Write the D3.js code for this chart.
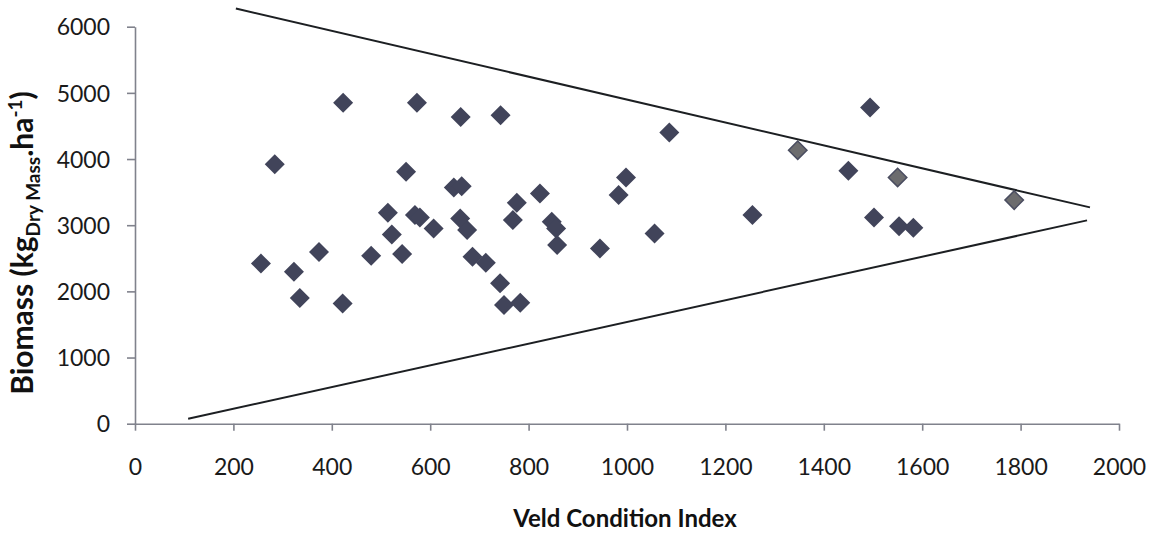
<!DOCTYPE html>
<html>
<head>
<meta charset="utf-8">
<script src="https://cdn.jsdelivr.net/npm/d3@7"></script>
<style>
  body { margin: 0; background: #fff; }
  svg text { font-family: Lato, "Open Sans", sans-serif; }
</style>
</head>
<body>
<div id="viz-body"></div>
<script>
// Veld Condition Index vs biomass (dark markers)
var vci = [256, 284, 323, 335, 374, 422, 423, 480, 514, 522, 543, 551, 569, 573, 579,
    607, 648, 662, 664, 661, 675, 686, 713, 742, 743, 750, 768, 776, 783, 823,
    847, 856, 858, 945, 983, 998, 1056, 1086, 1255, 1450, 1494, 1502, 1553, 1582];
var biomass = [2420, 3920, 2295, 1900, 2595, 1818, 4850, 2540, 3190, 2860, 2563, 3807, 3153, 4850, 3118,
    2951, 3570, 4637, 3590, 3103, 2926, 2523, 2432, 2121, 4663, 1793, 3077, 3338, 1828, 3480,
    3051, 2951, 2699, 2649, 3455, 3722, 2876, 4402, 3153, 3822, 4779, 3118, 2986, 2961];
// grey markers
var vciGrey = [1347, 1550, 1787];
var biomassGrey = [4134, 3722, 3379];
// envelope lines [x, y]
var upperLine = [[205, 6275], [1941, 3269]];
var lowerLine = [[108, 75], [1935, 3073]];
var xTicks = [0, 200, 400, 600, 800, 1000, 1200, 1400, 1600, 1800, 2000];
var yTicks = [0, 1000, 2000, 3000, 4000, 5000, 6000];

var width = 1155, height = 534;
var svg = d3.select("#viz-body").append("svg")
    .attr("width", width)
    .attr("height", height);

var x = d3.scaleLinear().domain([0, 2000]).range([135, 1119]);
var y = d3.scaleLinear().domain([0, 6000]).range([423.7, 26.7]);

// axes
var xAxis = svg.append("g")
    .attr("transform", "translate(0," + y(0) + ")")
    .call(d3.axisBottom(x).tickValues(xTicks).tickFormat(d3.format("d"))
        .tickSize(7).tickPadding(28).tickSizeOuter(0));
var yAxis = svg.append("g")
    .attr("transform", "translate(" + x(0) + ",0)")
    .call(d3.axisLeft(y).tickValues(yTicks).tickFormat(d3.format("d"))
        .tickSize(8).tickPadding(17).tickSizeOuter(0));

[xAxis, yAxis].forEach(function(a) {
    a.attr("font-family", null).attr("font-size", null);
    a.select(".domain").attr("stroke", "#80828c").attr("stroke-width", 1.6);
    a.selectAll(".tick line").attr("stroke", "#80828c").attr("stroke-width", 1.6);
    a.selectAll("text").attr("fill", "#1a1a1a").style("font-size", "23px");
});
yAxis.selectAll("text").attr("dy", "0.36em");

// envelope lines
var line = d3.line().x(d => x(d[0])).y(d => y(d[1]));
[upperLine, lowerLine].forEach(function(l) {
    svg.append("path")
        .attr("d", line(l))
        .attr("fill", "none")
        .attr("stroke", "#1c1f22")
        .attr("stroke-width", 2);
});

// markers
var diamond = d3.symbol().type(d3.symbolSquare).size(200);
svg.append("g").selectAll("path")
    .data(vci.map((v, i) => [v, biomass[i]]))
    .enter().append("path")
    .attr("d", diamond)
    .attr("transform", d => "translate(" + x(d[0]) + "," + y(d[1]) + ") rotate(45)")
    .attr("fill", "#41445a");

svg.append("g").selectAll("path")
    .data(vciGrey.map((v, i) => [v, biomassGrey[i]]))
    .enter().append("path")
    .attr("d", d3.symbol().type(d3.symbolSquare).size(170))
    .attr("transform", d => "translate(" + x(d[0]) + "," + y(d[1]) + ") rotate(45)")
    .attr("fill", "#6c6c6e")
    .attr("stroke", "#4a4d60")
    .attr("stroke-width", 1.5);

// axis titles
svg.append("text")
    .attr("x", 625)
    .attr("y", 527)
    .attr("text-anchor", "middle")
    .style("font-size", "24px")
    .style("font-weight", "bold")
    .attr("fill", "#111")
    .text("Veld Condition Index");

var yt = svg.append("text")
    .attr("transform", "translate(33,243) rotate(-90)")
    .attr("text-anchor", "middle")
    .style("font-size", "30px")
    .style("font-weight", "bold")
    .attr("fill", "#111");
yt.append("tspan").text("Biomass (kg");
yt.append("tspan").attr("dy", 7).style("font-size", "19px").text("Dry Mass");
yt.append("tspan").attr("dy", -7).text(".ha");
yt.append("tspan").attr("dy", -11).style("font-size", "19px").text("-1");
yt.append("tspan").attr("dy", 11).text(")");
</script>
</body>
</html>
